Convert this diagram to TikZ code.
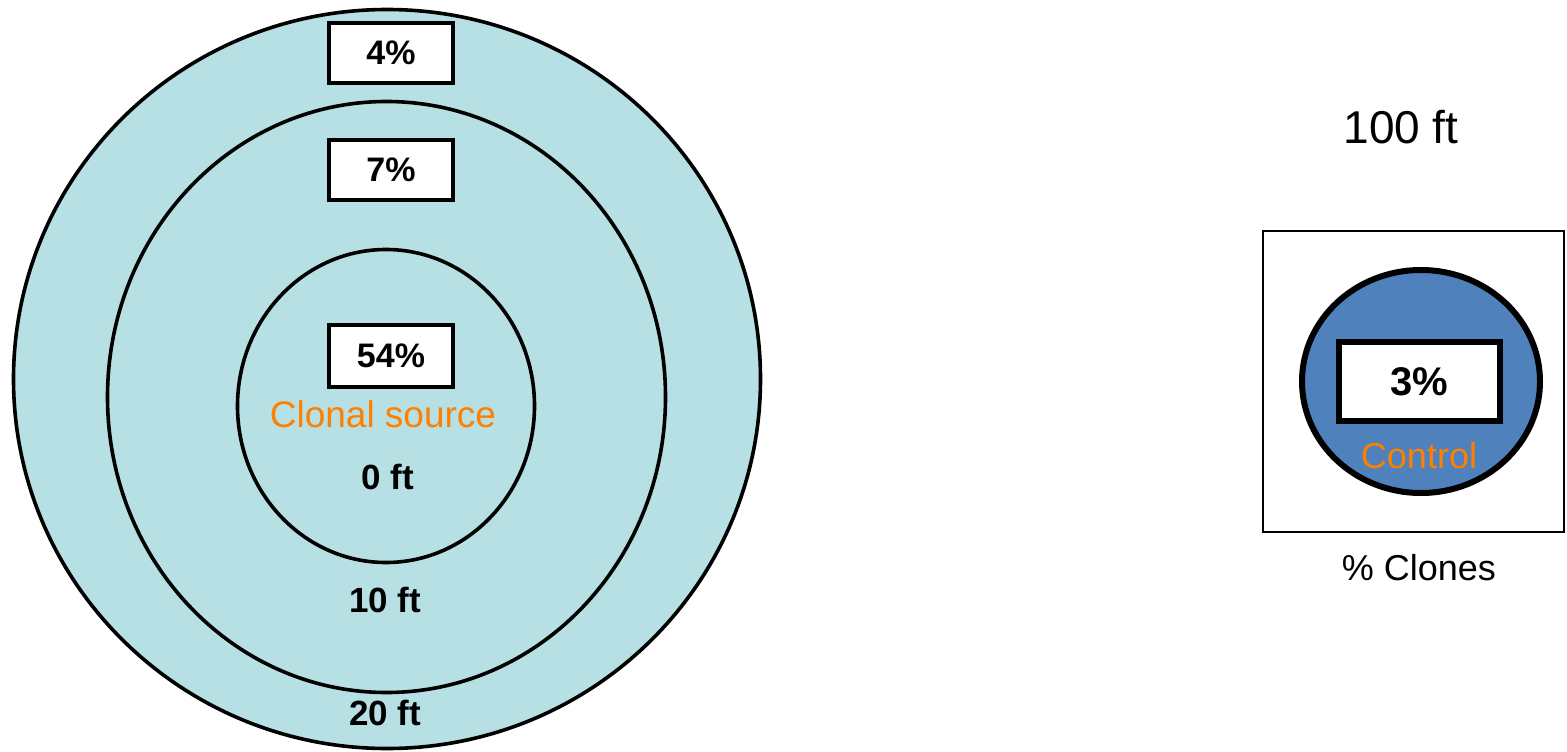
\documentclass[tikz,border=0pt]{standalone}
\usepackage{fontspec}
\setmainfont{Liberation Sans}
\usetikzlibrary{shapes.geometric}

\definecolor{ringfill}{RGB}{182,224,227}
\definecolor{ctrlblue}{RGB}{79,129,189}
\definecolor{srcorange}{RGB}{255,128,0}

\begin{document}
\begin{tikzpicture}[
  x=1pt, y=-1pt,
  % Estilos de anillos
  ring/.style={draw, ellipse, line width=3.6pt, fill=ringfill, inner sep=0pt},
  pctbox/.style={draw, rectangle, line width=3.6pt, fill=white, minimum width=124pt, minimum height=60pt, inner sep=0pt, font=\fontsize{34}{38}\selectfont\bfseries},
  dist/.style={inner sep=0pt, font=\fontsize{35}{38}\selectfont\bfseries},
  orangetxt/.style={inner sep=0pt, text=srcorange, font=\fontsize{37}{40}\selectfont},
  plain/.style={inner sep=0pt, font=\fontsize{36}{40}\selectfont}
]
  \useasboundingbox (0,0) rectangle (1567,752);

  % ==========================================
  % CONCENTRIC RINGS
  % ==========================================
  \node[ring, minimum width=747pt, minimum height=739pt] (ring20) at (387,379) {};
  \node[ring, minimum width=558pt, minimum height=591pt] (ring10) at (386.5,397) {};
  \node[ring, minimum width=297pt, minimum height=313pt] (ring0) at (386,406) {};

  \node[pctbox] (p4) at (391,53) {4\%};
  \node[pctbox] (p7) at (391,170) {7\%};
  \node[pctbox, minimum height=62pt] (p54) at (391,356) {54\%};

  \node[orangetxt] (src) at (383,414) {Clonal source};
  \node[dist] (d0) at (388,477) {0 ft};
  \node[dist] (d10) at (385,600) {10 ft};
  \node[dist] (d20) at (385,713) {20 ft};

  % ==========================================
  % CONTROL
  % ==========================================
  \node[plain, font=\fontsize{46}{50}\selectfont] (far) at (1401,127) {100 ft};
  \node[draw, rectangle, line width=2pt, minimum width=301pt, minimum height=301pt, inner sep=0pt] (frame) at (1413.5,381.5) {};
  \node[draw, ellipse, line width=6pt, fill=ctrlblue, minimum width=238pt, minimum height=223pt, inner sep=0pt] (ctrl) at (1421,381.5) {};
  \node[draw, rectangle, line width=6pt, fill=white, minimum width=161pt, minimum height=79pt, inner sep=0pt, font=\fontsize{40}{44}\selectfont\bfseries] (p3) at (1419.5,381.5) {3\%};
  \node[orangetxt, font=\fontsize{36}{40}\selectfont] (ctrltxt) at (1419,456) {Control};
  \node[plain] (legend) at (1419,568) {\% Clones};

\end{tikzpicture}
\end{document}
